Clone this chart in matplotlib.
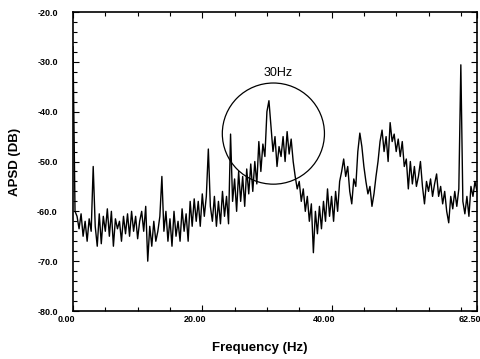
import numpy as np
import matplotlib
matplotlib.use("Agg")
import matplotlib.pyplot as plt
from matplotlib.patches import Ellipse
from matplotlib.transforms import ScaledTranslation

plt.rcParams['font.family'] = ['Liberation Sans', 'DejaVu Sans']

# spectrum sampled every 0.3125 Hz (0 .. 62.5 Hz)
freq_step = 0.3125
apsd_db = [
    -27, -60, -61, -63.5, -60.5, -65, -62, -66, -61.5, -64,
    -51, -63, -67, -60.5, -66.5, -61, -64, -59.5, -65, -60,
    -67, -61.5, -63.5, -62, -66, -61, -64.5, -60.5, -65, -60,
    -64, -61, -65.5, -62, -60, -64, -59, -70, -63, -67,
    -62, -66, -64, -61, -53, -64, -60, -66, -61.5, -67,
    -60, -65, -62, -66, -59.5, -64, -60.5, -66, -58, -63,
    -57.5, -62, -58, -63, -56.5, -61, -57, -47.5, -59, -62,
    -57, -63, -58, -62.5, -56, -61, -57, -62.5, -44.5, -58,
    -53.5, -60, -52, -58, -53, -59, -51.5, -56.5, -50.5, -56,
    -50, -54.5, -46, -52, -46.5, -49, -40, -37.8, -43, -48,
    -45, -51, -47, -49, -45, -50, -44, -48.5, -45.5, -50,
    -53, -55.5, -54, -58, -55.5, -60, -57, -62, -58.5, -68.3,
    -60, -64.5, -59, -63.5, -58, -62, -55.5, -61, -57, -62,
    -56, -60, -54, -52, -49.5, -53, -51, -56, -58.5, -53.5,
    -55, -48, -44.3, -47, -51, -54, -56.5, -55, -59, -56.5,
    -53, -50, -46, -43.7, -48, -45, -50, -42.2, -46, -44.5,
    -48, -45.5, -49, -46, -51, -49.5, -55.5, -50, -54.5, -51,
    -55, -53, -50, -55, -58.5, -54, -56, -53.5, -57, -54.5,
    -52.5, -57, -55, -58.5, -56, -60, -62.3, -57, -59.5, -56,
    -59, -55.5, -30.6, -58, -60.5, -57, -61, -55, -57, -54,
    -56,
]
freq_hz = np.arange(len(apsd_db)) * freq_step

y_ticks = [-80, -70, -60, -50, -40, -30, -20]
y_tick_labels = ['-80.0', '-70.0', '-60.0', '-50.0', '-40.0', '-30.0', '-20.0']
x_ticks = [0, 20, 40, 62.5]
x_tick_labels = ['0.00', '20.00', '40.00', '62.50']

annot_text = '30Hz'
annot_center = (31.0, -44.4)

fig = plt.figure(figsize=(4.8, 3.59), dpi=100)
ax = fig.add_axes([73/480, 1-311/359, (477-73)/480, (311-12)/359])

ax.plot(freq_hz, apsd_db, color='black', lw=1.0)

ax.set_xlim(0, 62.5)
ax.set_ylim(-80, -20)

ax.set_yticks(y_ticks)
ax.set_yticklabels(y_tick_labels)
ax.set_yticks(np.arange(-80, -19, 2), minor=True)
ax.set_xticks(x_ticks)
ax.set_xticklabels(x_tick_labels)
ax.set_xticks(np.arange(5, 61, 5), minor=True)

ax.tick_params(which='both', direction='in', top=True, right=True,
               labelsize=6.5, width=0.8, color='black')
ax.tick_params(which='major', length=4)
ax.tick_params(which='minor', length=3)
ax.tick_params(axis='y', pad=11)
ax.tick_params(axis='x', pad=3)

for lbl in ax.get_xticklabels() + ax.get_yticklabels():
    lbl.set_fontweight('bold')
for lbl in ax.get_xticklabels():
    lbl.set_transform(lbl.get_transform() + ScaledTranslation(-7/100, 0, fig.dpi_scale_trans))

for s in ax.spines.values():
    s.set_linewidth(1.2)

ell = Ellipse(annot_center, width=15.8, height=20.3, fill=False, lw=0.9, color='black')
ax.add_patch(ell)
ax.text(31.7, -32.2, annot_text, ha='center', va='center', fontsize=9)

fig.text(15/480, 1-162/359, 'APSD (DB)', rotation=90, ha='center', va='center',
         fontsize=9.5, fontweight='bold')
fig.text(260/480, 1-348/359, 'Frequency (Hz)', ha='center', va='center',
         fontsize=9.5, fontweight='bold')

fig.savefig('out.png', dpi=100)
